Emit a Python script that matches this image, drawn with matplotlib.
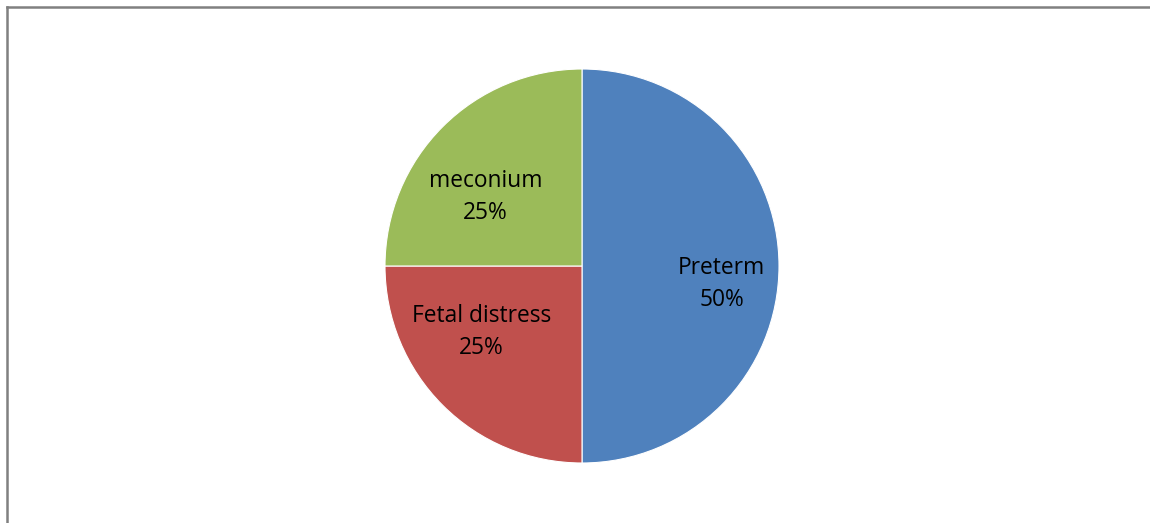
import matplotlib
matplotlib.use('Agg')
import matplotlib.pyplot as plt
from matplotlib.lines import Line2D

categories = ['Preterm', 'Fetal distress', 'meconium']
shares = [50, 25, 25]
colors = ['#4F81BD', '#C0504D', '#9BBB59']
# label anchor points in pie units (radius = 1)
label_pos = [(0.71, -0.09), (-0.51, -0.335), (-0.49, 0.35)]

W, H = 1150, 523
fig = plt.figure(figsize=(W / 100, H / 100), dpi=100)
fig.patch.set_facecolor('white')

cx, cy, r = 582, 266, 197
ax = fig.add_axes([(cx - r) / W, (H - cy - r) / H, 2 * r / W, 2 * r / H])
wedges, _ = ax.pie(shares, colors=colors, startangle=90, counterclock=False,
                   radius=1, wedgeprops=dict(edgecolor='white', linewidth=0.8))
ax.set_xlim(-1, 1)
ax.set_ylim(-1, 1)
ax.set_aspect('equal')
ax.axis('off')

for name, val, (x, y) in zip(categories, shares, label_pos):
    ax.text(x, y, '%s\n%d%%' % (name, val), ha='center', va='center',
            fontsize=16.4, family='Open Sans', linespacing=1.42, color='black')

# chart area frame (only top and left edges fall inside the image)
fig.add_artist(Line2D([6.5 / W, 1], [1 - 6.5 / H, 1 - 6.5 / H],
                      transform=fig.transFigure, color='#808080', lw=1.8))
fig.add_artist(Line2D([6.5 / W, 6.5 / W], [0, 1 - 6.5 / H],
                      transform=fig.transFigure, color='#808080', lw=1.8))

fig.savefig('out.png', dpi=100)
